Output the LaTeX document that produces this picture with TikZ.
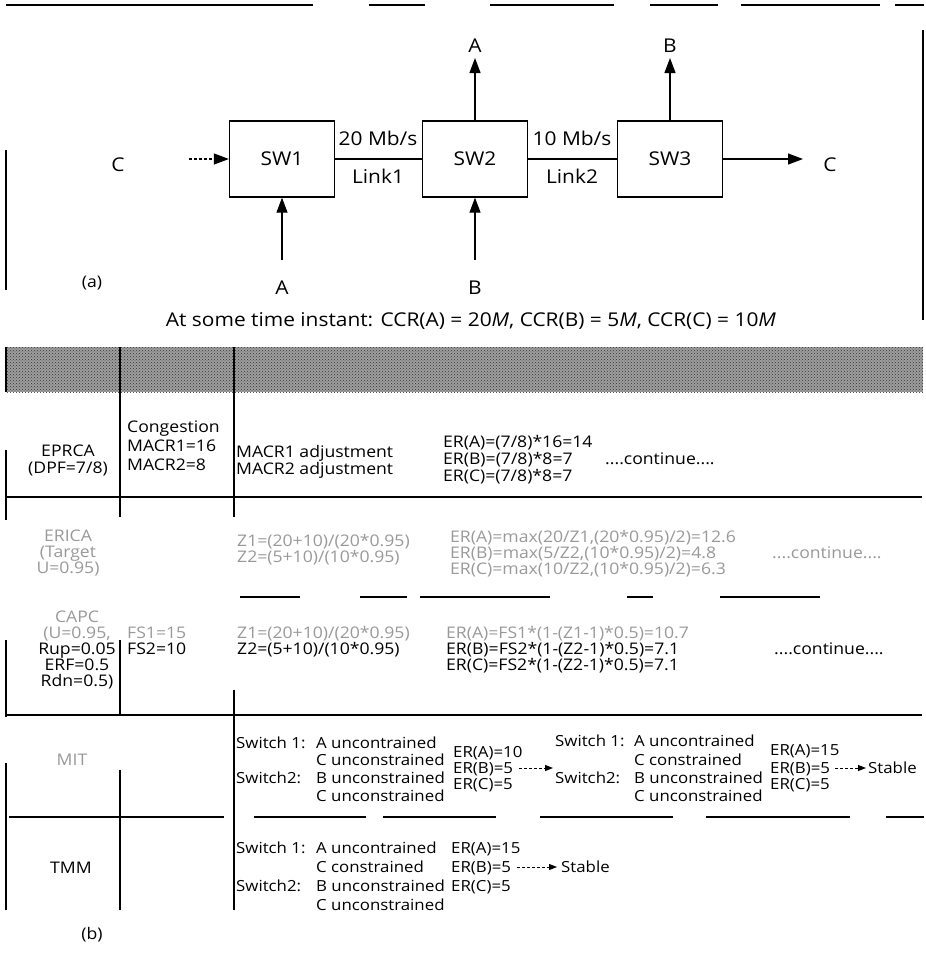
\documentclass[tikz,border=0pt]{standalone}
\usepackage{fontspec}
\setmainfont{Open Sans}[FakeStretch=1.1]
\usetikzlibrary{arrows.meta,patterns}
\begin{document}
\begin{tikzpicture}[x=1pt,y=-1pt,
  swbox/.style={draw,line width=1.3pt,minimum width=105pt,minimum height=76pt,inner sep=0pt,font=\fontsize{19}{22}\selectfont},
  big/.style={inner sep=0pt,anchor=base,yshift=-6.8pt,font=\fontsize{19}{22}\selectfont},
  tt/.style={inner sep=0pt,anchor=base west,yshift=-5.6pt,font=\fontsize{16}{18}\selectfont},
  tc/.style={inner sep=0pt,anchor=base,yshift=-5.6pt,font=\fontsize{16}{18}\selectfont},
  ts/.style={inner sep=0pt,anchor=base west,yshift=-5.4pt,font=\fontsize{15.3}{18}\selectfont},
  faint/.style={text=black!40},
  arr/.style={line width=1.2pt,-{Triangle[length=15pt,width=11pt]}},
  darr/.style={line width=1.1pt,dash pattern=on 3pt off 2pt,-{Triangle[length=15pt,width=11pt]}},
  sarr/.style={line width=1pt,dash pattern=on 3pt off 2pt,-{Triangle[length=8pt,width=6pt]}},
  link/.style={line width=1.2pt},
  tline/.style={line width=1.1pt},
]
\useasboundingbox (0,0) rectangle (926,964);

% ---- frame remnants
\foreach \a/\b in {6/313,369/425,490/614,650/718,741/880,895/924}
  \draw[line width=1.4pt] (\a,5) -- (\b,5);
\draw[tline] (6,150) -- (6,290);
\draw[tline] (923,30) -- (923,320);

% ---- part (a)
\node[swbox] (sw1) at (282,159) {\raisebox{-7pt}{SW1}};
\node[swbox] (sw2) at (475,159) {\raisebox{-7pt}{SW2}};
\node[swbox] (sw3) at (670,159) {\raisebox{-7pt}{SW3}};

\node[big] (cleft) at (118,165) {C};
\node[big] (cright) at (830,165) {C};
\coordinate (cin) at (189,159);
\coordinate (cout) at (803,159);
\draw[darr] (cin) -- (sw1.west);
\draw[arr] (sw3.east) -- (cout);

\draw[link] (sw1.east) -- (sw2.west);
\draw[link] (sw2.east) -- (sw3.west);
\node[big] (r1) at (378,139) {20 Mb/s};
\node[big] (l1) at (378,177) {Link1};
\node[big] (r2) at (572,139) {10 Mb/s};
\node[big] (l2) at (572,177) {Link2};

\node[big] (atop) at (475,46) {A};
\node[big] (btop) at (670,46) {B};
\coordinate (atip) at (475,58);
\coordinate (btip) at (670,58);
\draw[arr] (sw2.north) -- (atip);
\draw[arr] (sw3.north) -- (btip);

\node[big] (abot) at (282,288) {A};
\node[big] (bbot) at (475,288) {B};
\coordinate (ain) at (282,260);
\coordinate (bin) at (475,260);
\draw[arr] (ain) -- (sw1.south);
\draw[arr] (bin) -- (sw2.south);

\node[tc] (pa) at (92,282) {(a)};

% ---- title
\node[inner sep=0pt,font=\fontsize{19}{22}\selectfont] (title) at (471,321)
  {At some time instant: CCR(A) = 20\textit{M}, CCR(B) = 5\textit{M}, CCR(C) = 10\textit{M}};

% ---- header band (unreadable in the scan)
\fill[black!38] (6,347) rectangle (923,392);
\fill[pattern=crosshatch dots,pattern color=black!80] (6,347) rectangle (923,392);

% ---- table lines
\draw[tline] (6,347) -- (6,392);
\draw[tline] (6,450) -- (6,520);
\draw[tline] (6,640) -- (6,717);
\draw[tline] (6,763) -- (6,910);
\draw[tline] (120,347) -- (120,517);
\draw[tline] (120,640) -- (120,715);
\draw[tline] (120,770) -- (120,910);
\draw[tline] (234,347) -- (234,517);
\draw[tline] (234,690) -- (234,910);
\draw[tline] (6,497) -- (922,497);
\draw[tline] (6,715) -- (922,715);
\foreach \a/\b in {240/300,360/407,420/550,627/653,720/820}
  \draw[tline] (\a,597) -- (\b,597);
\foreach \a/\b in {9/224,254/366,383/496,540/673,706/850,886/924}
  \draw[tline] (\a,817) -- (\b,817);

% ---- row EPRCA
\node[tc] (ep1) at (68,451) {EPRCA};
\node[tc] (ep2) at (68,468) {(DPF=7/8)};
\node[tt] (cong) at (127,427) {Congestion};
\node[tt] (mac1) at (127,446) {MACR1=16};
\node[tt] (mac2) at (127,465) {MACR2=8};
\node[tt] (adj1) at (236,452) {MACR1 adjustment};
\node[tt] (adj2) at (236,469) {MACR2 adjustment};
\node[tt] (e1a) at (443,442) {ER(A)=(7/8)*16=14};
\node[tt] (e1b) at (443,459) {ER(B)=(7/8)*8=7};
\node[tt] (e1c) at (443,476) {ER(C)=(7/8)*8=7};
\node[tt] (cont1) at (605,459) {....continue....};

% ---- row ERICA (faint in the scan)
\node[tc,faint] (er1) at (68,536) {ERICA};
\node[tc,faint] (er2) at (68,552) {(Target};
\node[tc,faint] (er3) at (68,568) {U=0.95)};
\node[tt,faint] (ez1) at (237,541) {Z1=(20+10)/(20*0.95)};
\node[tt,faint] (ez2) at (237,557) {Z2=(5+10)/(10*0.95)};
\node[tt,faint] (e2a) at (450,537) {ER(A)=max(20/Z1,(20*0.95)/2)=12.6};
\node[tt,faint] (e2b) at (450,553) {ER(B)=max(5/Z2,(10*0.95)/2)=4.8};
\node[tt,faint] (e2c) at (450,569) {ER(C)=max(10/Z2,(10*0.95)/2)=6.3};
\node[tt,faint] (cont2) at (772,553) {....continue....};

% ---- row CAPC
\node[tc,faint] (ca1) at (77,617) {CAPC};
\node[tc,faint] (ca2) at (77,633) {(U=0.95,};
\node[tc] (ca3) at (77,649) {Rup=0.05};
\node[tc] (ca4) at (77,665) {ERF=0.5};
\node[tc] (ca5) at (77,681) {Rdn=0.5)};
\node[tt,faint] (fs1) at (127,633) {FS1=15};
\node[tt] (fs2) at (127,649) {FS2=10};
\node[tt,faint] (cz1) at (237,633) {Z1=(20+10)/(20*0.95)};
\node[tt] (cz2) at (237,649) {Z2=(5+10)/(10*0.95)};
\node[tt,faint] (e3a) at (446,633) {ER(A)=FS1*(1-(Z1-1)*0.5)=10.7};
\node[tt] (e3b) at (446,649) {ER(B)=FS2*(1-(Z2-1)*0.5)=7.1};
\node[tt] (e3c) at (446,665) {ER(C)=FS2*(1-(Z2-1)*0.5)=7.1};
\node[tt] (cont3) at (774,649) {....continue....};

% ---- row 4
\node[tc,faint] (mit) at (72,760) {MIT};
\node[ts] (s1a) at (236,743) {Switch 1:};
\node[ts] (s1b) at (316,743) {A uncontrained};
\node[ts] (s1c) at (316,760) {C unconstrained};
\node[ts] (s1d) at (236,778) {Switch2:};
\node[ts] (s1e) at (316,778) {B unconstrained};
\node[ts] (s1f) at (316,796) {C unconstrained};
\node[ts] (f1a) at (453,752) {ER(A)=10};
\node[ts] (f1b) at (453,768) {ER(B)=5};
\node[ts] (f1c) at (453,784) {ER(C)=5};
\coordinate (g1) at (553,768);
\draw[sarr] ([xshift=6pt]f1b.east |- 0,768) -- (g1);
\node[ts] (s2a) at (555,741) {Switch 1:};
\node[ts] (s2b) at (634,741) {A uncontrained};
\node[ts] (s2c) at (634,760) {C constrained};
\node[ts] (s2d) at (555,778) {Switch2:};
\node[ts] (s2e) at (634,778) {B unconstrained};
\node[ts] (s2f) at (634,796) {C unconstrained};
\node[ts] (f2a) at (770,750) {ER(A)=15};
\node[ts] (f2b) at (770,768) {ER(B)=5};
\node[ts] (f2c) at (770,784) {ER(C)=5};
\node[ts] (st1) at (868,768) {Stable};
\draw[sarr] ([xshift=5pt]f2b.east |- 0,768) -- ([xshift=-2pt]st1.west |- 0,768);

% ---- row TMM
\node[tc] (tmm) at (71,868) {TMM};
\node[ts] (t1a) at (236,848) {Switch 1:};
\node[ts] (t1b) at (316,848) {A uncontrained};
\node[ts] (t1c) at (316,867) {C constrained};
\node[ts] (t1d) at (236,886) {Switch2:};
\node[ts] (t1e) at (316,886) {B unconstrained};
\node[ts] (t1f) at (316,905) {C unconstrained};
\node[ts] (h1a) at (451,848) {ER(A)=15};
\node[ts] (h1b) at (451,867) {ER(B)=5};
\node[ts] (h1c) at (451,886) {ER(C)=5};
\node[ts] (st2) at (561,867) {Stable};
\draw[sarr] ([xshift=6pt]h1b.east |- 0,867) -- ([xshift=-4pt]st2.west |- 0,867);

\node[tc] (pb) at (92,934) {(b)};
\end{tikzpicture}
\end{document}
